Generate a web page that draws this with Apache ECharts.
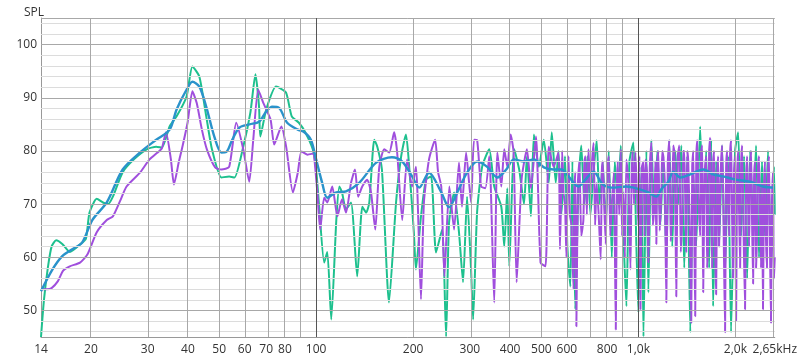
<!DOCTYPE html>
<html>
<head>
<meta charset="utf-8">
<script src="https://cdn.jsdelivr.net/npm/echarts@6/dist/echarts.min.js"></script>
<style>html,body{margin:0;padding:0;background:#fff}#c{width:800px;height:363px}</style>
</head>
<body>
<div id="c"></div>
<script>
// ---- axis ticks ----
const freqTicks = [14,20,30,40,50,60,70,80,100,200,300,400,500,600,800,1000,2000,2650];
const freqTickLabels = ['14','20','30','40','50','60','70','80','100','200','300','400','500','600','800','1,0k','2,0k','2,65kHz'];
const minorGridFreqs = [20,30,40,50,60,70,80,90,200,300,400,500,600,700,800,900,2000];
const majorGridFreqs = [100,1000];
const splTicks = [50,60,70,80,90,100];
const minorSplGrid = [46,48,52,54,56,58,62,64,66,68,72,74,76,78,82,84,86,88,92,94,96,98,102,104];
const majorSplGrid = [50,60,70,80,90,100,105];

// ---- green series ----
const greenFreq = [14,14.3,14.7,15.1,15.6,16.3,17.2,18.5,19.3,19.8,20.85,21.8,22.6,23.4,25.1,27.3,29.8,31.9,33.2,35.1,36.9,39.6,41.3,43.4,45.6,47.5,50.8,53.7,55.8,59.4,62.5,64.8,66.5,67.1,70,75.1,80.6,84,88.4,92.5,97.6,100,102.2,105.9,108.3,111.4,115.5,118,120.3,123.8,128.3,134.1,139.1,143,146.2,151.5,154.8,160,168.3,177,183.6,190,194,201,204,211.5,219.2,227.4,235.5,246,253.1,258.5,268,277.5,285.7,294,302.5,307,315.8,327.4,344.5,357,375.5,383.5,392,397.5,411.8,426.7,441.7,451,464,474,491,508.8,527,538.5,554,
565,577,592,602,615,624,637,651,665,680,695,710,726,742,758,775,792,809,827,845,863,882,899,918,938,965,986,1000,1022,1037,1059,1074,1097,1121,1145,1170,1195,1221,1247,1274,1302,1330,1359,1388,1418,1449,1480,1511,1555,1589,1623,1658,1682,1706,1743,1780,1819,1858,1898,1939,1996,2040,2083,2128,2175,2222,2270,2318,2368,2419,2471,2525,2579,2635,2650];
const greenSpl = [45,52,58,62,63.2,62.5,61,62.4,63.5,68.4,71,70.3,70,71.4,76,78.5,80.3,80.8,80.6,84.6,86.5,90.2,95.9,94,86.5,80.3,75,75.2,75,80.8,87.2,94.4,88.3,82.7,87.8,92.1,91,86.5,85.3,83.5,80.3,76.5,69.5,59,61,48.3,67,73.3,72.2,69,70.3,56.4,69.5,68.4,70.3,82.1,80.8,76.5,51.5,70.3,79,83.1,77.8,64.7,57.7,67.7,74.6,75.2,60.9,65.2,45.1,66.5,72.2,64.7,55.3,71.4,57.7,48.3,68.4,77,80.3,73.3,69.5,62,73,58.3,80.3,76.5,70,79,67.7,83.1,77,82.1,74,83.5,74,
80,68,79,62,54.5,78,50.2,72,81,70,79,68,76,82,70,78,66,80,60,78,70,81,64,50.8,78,81.6,62,49.6,77,45.1,80,53.4,82,68,80,66,79,60,82,62,80,70,81,58,79,45.9,76,62,84.6,66,80,58,82,50.8,78,62,81,57,79,45.9,80,83.5,64,79,56,80,67,81,60,78,64,80,58,77,68];

// ---- purple series ----
const purpleFreq = [14,14.6,15.1,15.8,16.4,17.2,18.5,19.5,20.85,22.4,23.4,24.6,25.8,28.4,30.4,32.2,33.2,34.2,35.4,36.2,37.5,38.3,39.9,41.3,42.6,44.2,45.8,48.6,50.8,53.7,56.5,59.4,62,63.8,66.1,68.5,72.2,74.1,78,80.7,84.7,87.7,90,94,97.6,100.7,102.9,105.9,108.3,112.2,116.4,120.3,123.8,128.3,132,135,139,144,148,152.6,157,162.7,168.6,174.6,178.4,185,191.5,198.5,204,211.5,216,224,234,239,244.5,250,259,268,277.5,283.5,292,302.5,309,316,325,335,344.5,357,365,375.5,383.5,392,401.5,410,419,434,451,464,481,497,515,527,546,565,
571,580,586,592,598,603,607,613,620,629,633,637,642,649,656,665,675,680,685,692,700,710,718,726,734,742,753,764,770,775,783,792,800,809,818,827,839,851,857,863,872,882,890,899,908,918,931,945,952,959,969,979,990,
1000,1007,1015,1026,1037,1045,1052,1063,1074,1085,1097,1109,1121,1129,1137,1145,1153,1165,1178,1186,1195,1208,1221,1234,1247,1260,1274,1283,1292,1301,1311,1325,1340,1354,1368,1378,1388,1398,1408,1418,1428,1443,1459,1469,1480,1490,1501,1512,1523,1539,1555,1566,1578,1583,1589,1606,1623,1634,1646,1658,1670,1682,1694,1706,1718,1730,1743,1755,1768,1780,1793,1806,1819,1838,1858,1871,1885,1898,1912,1925,1939,1953,1967,1981,1996,2003,2010,2025,2040,2054,2069,2083,2098,2120,2143,2159,2175,2190,2206,2222,2238,2254,2270,2286,2302,2318,2335,2351,2368,2385,2402,2419,2436,2453,2471,2488,2506,2524,2543,2561,2579,2597,2616,2633,2650];
const purpleSpl = [54,54,54.2,55.5,57.5,58.3,59,60.5,64.7,67,67.7,70.5,73.3,75.9,78.4,79.7,80.5,83.5,78.5,73.7,78,80.3,85.3,91.2,89,84,80.3,76.9,76.5,77,85.3,80.3,74.2,82.1,91.5,89.1,85.9,81.2,84.6,80.8,72.2,75.9,79.9,79.3,79.5,72.7,65.2,71.2,70.3,73.3,67.7,70.9,68.4,74,76.5,71.4,73.3,74.6,72.2,65.2,77,80.3,79.7,83.5,79.7,67,78.4,73.3,77,52.1,70.3,78.4,82.1,76,73.3,56.4,73.3,65.2,77.8,69.5,79.7,70.3,82.1,82,73.3,73,79,51.5,79.7,73.3,80.3,77,83.1,79.7,55.3,74.6,80.3,73,82.7,59,58.3,80.8,77,79.7,
61.5,80,72,70,60,74,79,68,66,54,72,76,47,74,78,64,67,78,79,68,80.3,72,78,81.5,66,74,68,59.6,76,78,70,62.5,76,79,64,70,76,46.4,72,78,68,80.3,64,72.2,60,78.4,74,57.7,74,80,70,79.7,72,
66,79,50.2,77,78,64,78.4,76,59,77,81.6,66,70,78,62.5,77,80,65,72,80,79,74,51.5,78,82,63,70,81,80,72,52.6,79,81,61,68,80,80,70,60.9,80,78,66,47.7,77,80,66,48.9,78,82,70,64,80,81,66,53.4,76,79,58,63,80,82.5,70,58,78,80,62,53,74,79,62,71,78,81,66,45.9,76,80,70,64,79,82,68,56,76,79,66,48,75,80,68,58,77,81,65,50.2,74,79,70,62,76,80,66,55,75,78,58,64,77,79,68,58,74,50.2,72,78,64,58,76,79,62,47.7,70,76,56,60];

// ---- blue (smoothed) series ----
const blueFreq = [14,15.2,16.3,17.5,18.8,20.2,22.4,25.1,28.4,31.9,35.1,36.9,39.6,41.3,43.4,45.6,48.3,50.8,52.6,54.9,57.8,62.1,66.5,70,73,76.7,81.3,87.7,91.5,96.3,100,104.4,108.3,115.5,123.8,136,153.6,171.8,185,198.5,209,224,244.5,258.5,274,294,316,339.5,365,389,411,442,474,509,546,578,607,651,685,726,775,827,918,979,1074,1137,1178,1239,1283,1349,1449,1589,1706,1832,2010,2222,2436,2650];
const blueSpl = [53.6,57.7,60.2,61.5,62.8,67,70.3,76.5,79.7,82.1,84,87.8,91.5,93,92.1,88.3,82.7,79.7,79.8,82.1,84.4,85,85.5,87.4,88.3,88.1,85.3,84,83.6,82.1,78.4,74,71.2,72.2,72.4,74,77.8,78.8,78,75.2,73.1,75.9,72.2,69.4,72.2,75.9,78,77,75,76.5,78.4,78,78.4,76.9,76.5,76.5,75.2,73.3,74.6,76.1,73.7,73.1,73.3,73,72.2,71.4,72.8,74.2,76.1,75,75.6,76.5,75.6,75.2,74.6,74.2,73.3,73.1];

const lg = v => Math.log10(v);
const zip = (fs, vs) => fs.map((f, i) => [lg(f), vs[i]]);

const gridColorMinor = '#dcdcdc';
const gridColorMid = '#a8a8a8';
const gridColorMajor = '#555555';

const vLines = (arr, color) => arr.map(f => ({xAxis: lg(f), lineStyle: {color: color, width: 1, type: 'solid'}}));
const hLines = (arr, color) => arr.map(v => ({yAxis: v, lineStyle: {color: color, width: 1, type: 'solid'}}));

const chart = echarts.init(document.getElementById('c'), null, {renderer: 'canvas'});
const fontFamily = '"Open Sans", "Noto Sans", sans-serif';
chart.setOption({
  animation: false,
  backgroundColor: '#ffffff',
  title: {
    text: 'SPL', left: 19, top: 2,
    textStyle: {fontSize: 12, fontWeight: 'normal', color: '#333', fontFamily: fontFamily}
  },
  grid: {left: 41, right: 23, top: 18, bottom: 26, containLabel: false},
  xAxis: {
    type: 'value', min: lg(14), max: lg(2650),
    axisLine: {show: true, lineStyle: {color: '#999'}},
    axisTick: {show: false},
    splitLine: {show: false},
    axisLabel: {
      customValues: freqTicks.map(lg),
      showMinLabel: true, showMaxLabel: true, hideOverlap: false,
      color: '#333', fontSize: 12, fontFamily: fontFamily, margin: 7,
      formatter: function (v) {
        let best = 0, d = Infinity;
        freqTicks.forEach((f, i) => { const dd = Math.abs(lg(f) - v); if (dd < d) { d = dd; best = i; } });
        return freqTickLabels[best];
      }
    }
  },
  yAxis: {
    type: 'value', min: 45, max: 105,
    axisLine: {show: true, lineStyle: {color: '#999'}},
    axisTick: {show: false},
    splitLine: {show: false},
    axisLabel: {
      customValues: splTicks,
      color: '#333', fontSize: 12, fontFamily: fontFamily, margin: 4
    }
  },
  series: [
    {
      type: 'line', data: [], z: 0, silent: true,
      markLine: {
        silent: true, symbol: 'none', label: {show: false}, animation: false,
        data: [].concat(
          hLines(minorSplGrid, gridColorMinor),
          hLines(majorSplGrid, gridColorMid),
          vLines(minorGridFreqs, gridColorMid),
          vLines(majorGridFreqs, gridColorMajor),
          [{xAxis: lg(2650), lineStyle: {color: gridColorMid, width: 1, type: 'solid'}}]
        )
      }
    },
    {
      name: 'green', type: 'line', data: zip(greenFreq, greenSpl), z: 2,
      showSymbol: false, smooth: 0.2, clip: true,
      lineStyle: {color: '#1ec08e', width: 2}
    },
    {
      name: 'purple', type: 'line', data: zip(purpleFreq, purpleSpl), z: 3,
      showSymbol: false, smooth: 0.2, clip: true,
      lineStyle: {color: '#a04fdd', width: 2}
    },
    {
      name: 'blue', type: 'line', data: zip(blueFreq, blueSpl), z: 4,
      showSymbol: false, smooth: 0.3, clip: true,
      lineStyle: {color: '#2a93cb', width: 2.4}
    }
  ]
});
</script>
</body>
</html>
